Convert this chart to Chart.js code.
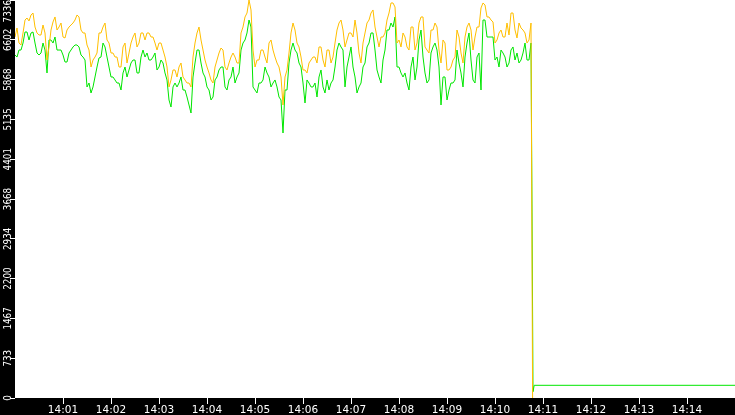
<!DOCTYPE html>
<html>
<head>
<meta charset="utf-8">
<script src="https://cdn.jsdelivr.net/npm/chart.js@4.4.1/dist/chart.umd.min.js"></script>
<style>
  html, body { margin: 0; padding: 0; background: #000; }
  canvas { display: block; }
</style>
</head>
<body>
<canvas id="myChart" width="735" height="415"></canvas>
<script>
// --- DONNÉES : un relevé toutes les 2,5 s depuis 14:00:00 ---
const sampleStep = 2.5;

const upper = [
    6654, 6820, 6543, 6507, 6728, 6967, 7004, 6949, 7060, 7096, 6838, 6728, 6691, 6691, 6875, 6728, 6230, 6470, 6783, 6931, 7023, 6783, 6838, 6912, 6654, 6636, 6783, 6838, 6875, 6912, 6967, 7060,
    7023, 6783, 6728, 6728, 6507, 6414, 6101, 6230, 6285, 6359, 6728, 6728, 6838, 6912, 6599, 6543, 6359, 6359, 6285, 6285, 6101, 6101, 6470, 6543, 6175, 6359, 6543, 6654, 6728, 6470, 6543, 6728, 6728,
    6599, 6728, 6728, 6654, 6654, 6543, 6414, 6543, 6543, 6414, 6285, 6101, 5733, 5862, 6046, 6046, 5917, 6101, 6175, 5917, 5862, 5806, 5806, 5733, 6285, 6543, 6728, 6838, 6599, 6414, 6230, 6101,
    5991, 5862, 5806, 6101, 6230, 6359, 6451, 6414, 6101, 6046, 6175, 6285, 6359, 6285, 6175, 6175, 6728, 6838, 7023, 7096, 7336, 7152, 6414, 6101, 6230, 6230, 6414, 6414, 6285, 6175, 6543, 6599, 6414,
    6285, 6175, 6101, 5917, 5401, 5917, 6046, 6359, 6728, 6912, 6783, 6543, 6470, 6285, 6046, 6046, 5991, 6175, 6230, 6285, 6285, 6175, 6470, 6470, 6230, 6101, 6414, 6414, 6175, 6285, 6543, 6783,
    6912, 6967, 6783, 6470, 6599, 6728, 6728, 6654, 6967, 6728, 6359, 6175, 6543, 6728, 6912, 6967, 7096, 7152, 6838, 6654, 6470, 6654, 6654, 6728, 6967, 7096, 7281, 7281, 7207, 6543, 6599, 6470, 6728,
    6654, 6470, 6414, 6838, 6838, 6414, 6543, 6912, 7023, 7023, 6470, 6414, 6359, 6783, 6783, 6912, 6838, 6414, 6175, 6599, 6543, 6046, 6046, 6101, 6230, 6285, 6783, 6654, 6359, 6175, 6654, 6838,
    6912, 6783, 6414, 6654, 6838, 6838, 7189, 7281, 7244, 7023, 7023, 6967, 6931, 6543, 6599, 6728, 6783, 6654, 6654, 6912, 6691, 7096, 7096, 6783, 6636, 6912, 6820, 6783, 6728, 6543, 6599, 6912
];

const lower = [
    6322, 6285, 6414, 6414, 6543, 6746, 6746, 6599, 6728, 6746, 6543, 6359, 6322, 6359, 6543, 6414, 5991, 6599, 6599, 6543, 6654, 6414, 6414, 6414, 6322, 6193, 6193, 6359, 6414, 6470, 6507, 6507,
    6470, 6322, 6285, 6230, 5733, 5806, 5622, 5733, 5917, 6101, 6267, 6285, 6543, 6470, 6285, 6101, 5917, 5917, 5862, 5806, 5806, 5677, 5991, 6101, 5917, 6046, 6175, 6230, 6230, 5991, 5991, 6285, 6414,
    6285, 6359, 6230, 6230, 6285, 6359, 6046, 6101, 6230, 6175, 5991, 5862, 5493, 5364, 5733, 5806, 5733, 5806, 5917, 5677, 5677, 5548, 5401, 5253, 5917, 6175, 6414, 6414, 6175, 5991, 5917, 5733,
    5677, 5493, 5548, 5862, 5917, 6046, 6101, 6101, 5733, 5677, 5862, 5917, 6101, 5806, 5917, 5991, 6414, 6543, 6599, 6728, 6967, 6838, 5733, 5677, 5622, 5806, 5806, 5862, 6101, 5991, 5917, 5733, 5806,
    5862, 5733, 5548, 5493, 4885, 5677, 5677, 6175, 6414, 6543, 6414, 6359, 6175, 6101, 5806, 5438, 5862, 5806, 5733, 5733, 5806, 5548, 5917, 6046, 5733, 5622, 5862, 5677, 5806, 5862, 6101, 6414,
    6543, 6470, 6414, 5733, 6101, 6285, 6470, 6101, 5917, 5622, 5733, 5806, 6101, 6175, 6470, 6543, 6728, 6728, 6414, 6046, 5917, 5806, 6230, 6414, 6783, 6783, 6912, 6838, 7023, 6101, 6101, 5991, 5917,
    5991, 5806, 5677, 6101, 6285, 5862, 6101, 6599, 6783, 6285, 5991, 5806, 5862, 6359, 6470, 6543, 6414, 6101, 5401, 5917, 5917, 5493, 5677, 5806, 5806, 5862, 6414, 6175, 5991, 5733, 6285, 6543,
    6728, 6230, 5862, 5806, 6285, 6359, 5677, 6967, 6967, 6654, 6654, 6654, 6654, 6230, 6285, 6101, 6414, 6359, 6285, 6101, 6175, 6414, 6470, 6230, 6359, 6175, 6230, 6359, 6543, 6230, 6230, 6543
];

// chute en fin de période (secondes, valeurs)
const upperTailSecs = [647];
const upperTail = [0];
const lowerTailSecs = [646.3, 647.5, 648.5, 649, 900];
const lowerTail = [3410, 116, 116, 234, 234];

const tickMinutes = [1, 2, 3, 4, 5, 6, 7, 8, 9, 10, 11, 12, 13, 14];
const yMax = 7336;
const yTickLabels = ['0', '733', '1467', '2200', '2934', '3668', '4401', '5135', '5868', '6602', '7336'];

const toPoints = (ys, tailX, tailY) =>
    ys.map((y, i) => ({ x: i * sampleStep, y: y }))
      .concat(tailX.map((x, i) => ({ x: x, y: tailY[i] })));

document.addEventListener('DOMContentLoaded', () => {

    // --- fond noir + zone blanche, étiquettes Y verticales ---
    const frame = {
        id: 'frame',
        beforeDraw(chart) {
            const { ctx, chartArea: a } = chart;
            ctx.save();
            ctx.fillStyle = '#000';
            ctx.fillRect(0, 0, chart.width, chart.height);
            ctx.fillStyle = '#fff';
            ctx.fillRect(a.left, a.top, a.right - a.left, a.bottom - a.top);
            ctx.restore();
        },
        afterDraw(chart) {
            const { ctx } = chart;
            const y = chart.scales.y;
            const squeeze = 0.8;
            ctx.save();
            ctx.fillStyle = '#fff';
            ctx.font = '11px "DejaVu Sans"';
            ctx.textAlign = 'center';
            ctx.textBaseline = 'alphabetic';
            y.ticks.forEach((t, i) => {
                const label = yTickLabels[i];
                const half = ctx.measureText(label).width * squeeze / 2;
                let py = y.getPixelForValue(t.value);
                py = Math.min(Math.max(py, half), chart.height - half);
                ctx.save();
                ctx.translate(10.5, py);
                ctx.rotate(-Math.PI / 2);
                ctx.scale(squeeze, 1);
                ctx.fillText(label, 0, 0);
                ctx.restore();
            });
            ctx.restore();
        }
    };

    const ctx = document.getElementById('myChart');
    new Chart(ctx, {
        type: 'line',
        data: {
            datasets: [
                {
                    label: 'max',
                    data: toPoints(upper, upperTailSecs, upperTail),
                    borderColor: '#ffbf00',
                    borderWidth: 1,
                    pointRadius: 0,
                    tension: 0
                },
                {
                    label: 'min',
                    data: toPoints(lower, lowerTailSecs, lowerTail),
                    borderColor: '#00e600',
                    borderWidth: 1,
                    pointRadius: 0,
                    tension: 0
                }
            ]
        },
        options: {
            responsive: false,
            animation: false,
            devicePixelRatio: 1,
            layout: { padding: 0 },
            plugins: { legend: { display: false }, tooltip: { enabled: false } },
            scales: {
                x: {
                    type: 'linear',
                    min: 0,
                    max: 900,
                    afterBuildTicks: (s) => { s.ticks = tickMinutes.map(m => ({ value: m * 60 })); },
                    afterFit: (s) => { s.height = 17; },
                    border: { display: false },
                    grid: { drawOnChartArea: false, drawTicks: true, tickLength: 6, color: '#fff' },
                    ticks: {
                        autoSkip: false,
                        maxRotation: 0,
                        padding: 0,
                        color: '#fff',
                        font: { family: 'DejaVu Sans', size: 10.5 },
                        callback: (v) => '14:' + String(v / 60).padStart(2, '0')
                    }
                },
                y: {
                    min: 0,
                    max: yMax,
                    afterBuildTicks: (s) => { s.ticks = yTickLabels.map((_, i) => ({ value: i * yMax / 10 })); },
                    afterFit: (s) => { s.width = 15; },
                    border: { display: false },
                    grid: { drawOnChartArea: false, drawTicks: true, tickLength: 5, color: '#fff' },
                    ticks: { display: false }
                }
            }
        },
        plugins: [frame]
    });
});
</script>
</body>
</html>
